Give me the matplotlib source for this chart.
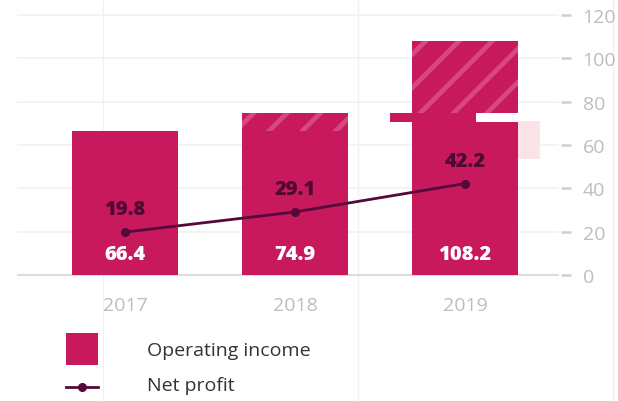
import matplotlib
matplotlib.use("Agg")
import matplotlib.pyplot as plt
from matplotlib.patches import Rectangle
from matplotlib.lines import Line2D

plt.rcParams['font.family'] = ['Open Sans', 'DejaVu Sans']

# ---- data ----
years = ['2017', '2018', '2019']
operating_income = [66.4, 74.9, 108.2]
net_profit = [19.8, 29.1, 42.2]
# solid part of each bar (as rendered) and start of hatched growth part
solid_tops = [66.4, 66.4, 70.6]
hatch_bottoms = [None, 66.4, 74.9]
# rendering leftovers visible around the 2019 bar
strip_pos = [1.812]
strip_width = [0.506]
strip_bottom = [70.6]
strip_top = [74.7]
ghost_pos = [2.376]
ghost_width = [0.129]
ghost_bottom = [53.5]
ghost_top = [71.0]
yticks = [0, 20, 40, 60, 80, 100, 120]

BAR = '#c8195d'
STRIPE = '#d6487f'
LINE = '#55093a'
LABEL_DARK = '#4f0a33'
GRID = '#f1f1f1'

W, H = 618, 402
fig = plt.figure(figsize=(W / 100, H / 100), dpi=100)
ax_left, ax_right, ax_top, ax_bot = 18, 561, 16, 276
ax = fig.add_axes([ax_left / W, 1 - ax_bot / H, (ax_right - ax_left) / W, (ax_bot - ax_top) / H])

# faint vertical page lines
for xp in [103, 358, 613]:
    fig.add_artist(Line2D([xp / W, xp / W], [0, 1], color='#f0f0f0', lw=1, zorder=0))

x = list(range(len(years)))
px = lambda p: (p - 125) / 170.0
ax.set_xlim(px(ax_left), px(ax_right))
ax.set_ylim(0, 120)

grid_end = (558 - ax_left) / (ax_right - ax_left)
for t in yticks:
    if t == 0:
        ax.axhline(t, xmin=0, xmax=grid_end, color='#dddddd', lw=1.5, zorder=1, clip_on=False)
    else:
        ax.axhline(t, xmin=0, xmax=grid_end, color=GRID, lw=1.2, zorder=0, clip_on=False)

bw = 106 / 170.0
ax.bar(x, solid_tops, width=bw, color=BAR, linewidth=0, zorder=2)
plt.rcParams['hatch.linewidth'] = 3.5
for i, b in enumerate(hatch_bottoms):
    if b is None:
        continue
    ax.bar(x[i], operating_income[i] - b, bottom=b, width=bw, color=BAR,
           edgecolor=STRIPE, hatch='/', linewidth=0, zorder=2)
ax.bar(strip_pos, [t - b for t, b in zip(strip_top, strip_bottom)], bottom=strip_bottom,
       width=strip_width, color=BAR, linewidth=0, zorder=2)
ax.bar(ghost_pos, [t - b for t, b in zip(ghost_top, ghost_bottom)], bottom=ghost_bottom,
       width=ghost_width, color='#fae4e8', linewidth=0, zorder=2)

ax.plot(x, net_profit, color=LINE, lw=2, marker='o', ms=5.5, zorder=4)

for i in x:
    ax.text(x[i], net_profit[i] + 10.5, f'{net_profit[i]:.1f}', ha='center', va='center',
            fontsize=14.5, fontweight='heavy', color=LABEL_DARK, zorder=5)
    ax.text(x[i], 9.5, f'{operating_income[i]:.1f}', ha='center', va='center',
            fontsize=14.5, fontweight='heavy', color='white', zorder=5)

for s in ax.spines.values():
    s.set_visible(False)
ax.set_xticks(x)
ax.set_xticklabels(years)
ax.tick_params(axis='x', length=0, pad=15, labelsize=14, labelcolor='#bdbdbd')
ax.yaxis.tick_right()
ax.set_yticks(yticks)
ax.tick_params(axis='y', right=True, left=False, direction='out', length=7.5, width=1.8,
               color='#cfcfcf', pad=8, labelsize=14, labelcolor='#bdbdbd')
ax.set_facecolor('none')

# legend
fig.add_artist(Rectangle((66 / W, 1 - 366 / H), 32 / W, 32 / H, transform=fig.transFigure,
                         color=BAR, lw=0))
fig.text(147 / W, 1 - 351 / H, 'Operating income', fontsize=14, color='#333333',
         va='center', ha='left')
fig.add_artist(Line2D([66 / W, 98 / W], [1 - 388 / H, 1 - 388 / H], color=LINE, lw=2))
fig.add_artist(Line2D([82 / W], [1 - 388 / H], color=LINE, marker='o', ms=5.5, lw=0))
fig.text(147 / W, 1 - 386 / H, 'Net profit', fontsize=14, color='#333333',
         va='center', ha='left')

fig.savefig('out.png', dpi=100)
